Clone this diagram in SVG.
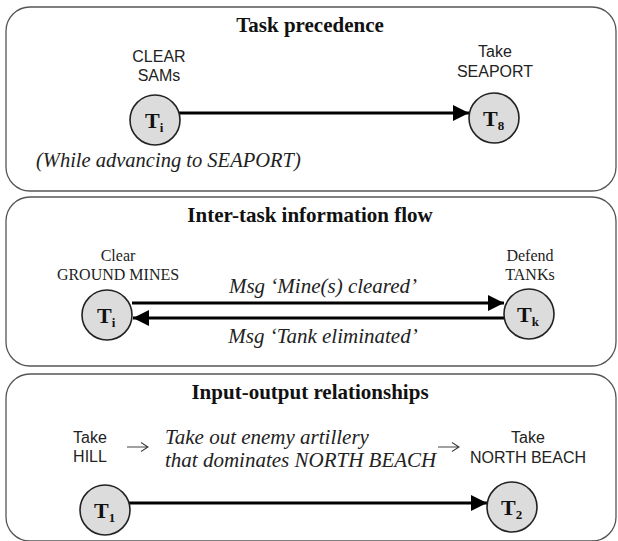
<svg xmlns="http://www.w3.org/2000/svg" width="618" height="541" viewBox="0 0 618 541">
<style>
.panel{fill:#fff;stroke:#555;stroke-width:1.3}
.title{font-family:"Liberation Serif",serif;font-weight:bold;font-size:21px;fill:#111;text-anchor:middle}
.sans{font-family:"Liberation Sans",sans-serif;font-size:16px;fill:#222;text-anchor:middle}
.serif{font-family:"Liberation Serif",serif;font-size:16px;fill:#222;text-anchor:middle}
.ital{font-family:"Liberation Serif",serif;font-style:italic;font-size:21px;fill:#222}
.node{fill:#dcdcdc;stroke:#222;stroke-width:1.6}
.tl{font-family:"Liberation Serif",serif;font-weight:bold;font-size:22px;fill:#111}
.sub{font-size:13px}
.conn{stroke:#000;stroke-width:3.2;fill:none}
.sym{stroke:#444;stroke-width:1.1;fill:none}
</style>
<defs>
<marker id="ah" markerUnits="userSpaceOnUse" markerWidth="17" markerHeight="16" refX="16" refY="8" orient="auto">
<path d="M0,0 L16,8 L0,16 Z" fill="#000"/>
</marker>
</defs>

<g id="panel1">
<rect class="panel" x="6" y="7" width="610" height="184" rx="24"/>
<text class="title" x="310" y="32">Task precedence</text>
<text class="ital" x="36" y="167" style="font-size:20.5px">(While advancing to SEAPORT)</text>
</g>
<g id="panel2">
<rect class="panel" x="6" y="197" width="610" height="169" rx="24"/>
<text class="title" x="310" y="222">Inter-task information flow</text>
</g>
<g id="panel3">
<rect class="panel" x="6" y="374" width="610" height="167" rx="24"/>
<text class="title" x="310" y="399">Input-output relationships</text>
<path class="sym" d="M127,447 H148 M141,442.5 L148,447 L141,451.5"/>
<text class="ital" x="165" y="444">Take out enemy artillery</text>
<text class="ital" x="165" y="467">that dominates NORTH BEACH</text>
<path class="sym" d="M438,447 H459 M452,442.5 L459,447 L452,451.5"/>
</g>

<g id="connectors">
<line class="conn" x1="179" y1="113" x2="469" y2="113" marker-end="url(#ah)"/>
<line class="conn" x1="132" y1="303" x2="504" y2="303" marker-end="url(#ah)"/>
<line class="conn" x1="504" y1="318" x2="133" y2="318" marker-end="url(#ah)"/>
<line class="conn" x1="129" y1="503" x2="487" y2="503" marker-end="url(#ah)"/>
<text class="ital" x="323" y="293" text-anchor="middle">Msg ‘Mine(s) cleared’</text>
<text class="ital" x="323" y="343" text-anchor="middle">Msg ‘Tank eliminated’</text>
</g>

<g id="node-ti-1">
<text class="sans" x="159" y="62">CLEAR</text>
<text class="sans" x="159" y="81">SAMs</text>
<ellipse class="node" cx="155" cy="120" rx="25" ry="25"/>
<text class="tl" x="145" y="128">T<tspan class="sub" dy="4">i</tspan></text>
</g>
<g id="node-t8">
<text class="sans" x="495" y="57">Take</text>
<text class="sans" x="495" y="77">SEAPORT</text>
<ellipse class="node" cx="494" cy="118" rx="25" ry="25"/>
<text class="tl" x="483" y="126">T<tspan class="sub" dy="4">8</tspan></text>
</g>
<g id="node-ti-2">
<text class="serif" x="118" y="261">Clear</text>
<text class="serif" x="118" y="280">GROUND MINES</text>
<ellipse class="node" cx="107" cy="315" rx="25" ry="25"/>
<text class="tl" x="97" y="323">T<tspan class="sub" dy="4">i</tspan></text>
</g>
<g id="node-tk">
<text class="serif" x="530" y="261">Defend</text>
<text class="serif" x="530" y="280">TANKs</text>
<ellipse class="node" cx="529" cy="314" rx="25" ry="25"/>
<text class="tl" x="517" y="322">T<tspan class="sub" dy="4">k</tspan></text>
</g>
<g id="node-t1">
<text class="sans" x="90" y="443">Take</text>
<text class="sans" x="90" y="462">HILL</text>
<ellipse class="node" cx="105" cy="510" rx="25" ry="25"/>
<text class="tl" x="94" y="518">T<tspan class="sub" dy="4">1</tspan></text>
</g>
<g id="node-t2">
<text class="sans" x="528" y="443">Take</text>
<text class="sans" x="528" y="463">NORTH BEACH</text>
<ellipse class="node" cx="512" cy="507" rx="25" ry="25"/>
<text class="tl" x="501" y="515">T<tspan class="sub" dy="4">2</tspan></text>
</g>
</svg>
